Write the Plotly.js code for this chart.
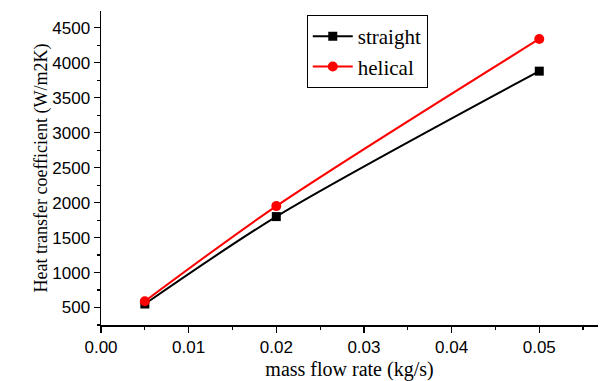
<!DOCTYPE html>
<html><head><meta charset="utf-8">
<script src="https://cdn.plot.ly/plotly-3.0.1.min.js"></script>
<style>body{margin:0;padding:0;background:#fff}#chart{width:605px;height:381px}</style>
</head><body><div id="chart"></div>
<script>
const massFlow = [0.005, 0.02, 0.05];
const straight = [550, 1800, 3880];
const helical = [590, 1950, 4340];
const seriesNames = ['straight', 'helical'];

const traces = [
  {x: massFlow, y: straight, name: seriesNames[0], mode: 'lines+markers', type: 'scatter',
   line: {color: '#000000', width: 2, shape: 'spline', smoothing: 0.8},
   marker: {symbol: 'square', size: 9, color: '#000000'}},
  {x: massFlow, y: helical, name: seriesNames[1], mode: 'lines+markers', type: 'scatter',
   line: {color: '#ff0000', width: 2, shape: 'spline', smoothing: 0.8},
   marker: {symbol: 'circle', size: 10, color: '#ff0000'}}
];

const layout = {
  width: 605, height: 381,
  margin: {l: 101, r: 7, t: 11, b: 56},
  paper_bgcolor: '#fff', plot_bgcolor: '#fff',
  showlegend: true,
  legend: {x: 0.414, y: 0.987, xanchor: 'left', yanchor: 'top',
    bordercolor: '#000', borderwidth: 1, bgcolor: '#fff',
    font: {family: 'Liberation Serif', size: 21, color: '#000'},
    tracegroupgap: 0, itemwidth: 40},
  xaxis: {range: [0, 0.0567], dtick: 0.01, tick0: 0, tickformat: '.2f',
    showgrid: false, zeroline: false, showline: true, linecolor: '#000', linewidth: 1.5,
    ticks: 'outside', ticklen: 6, tickcolor: '#000', tickwidth: 1.2,
    minor: {dtick: 0.005, ticks: 'outside', ticklen: 3, tickcolor: '#000', showgrid: false},
    tickfont: {family: 'Liberation Sans', size: 17, color: '#000'},
    title: {text: 'mass flow rate (kg/s)', standoff: 10,
      font: {family: 'Liberation Serif', size: 20, color: '#000'}}},
  yaxis: {range: [250, 4740], dtick: 500, tick0: 0,
    showgrid: false, zeroline: false, showline: true, linecolor: '#000', linewidth: 1.5,
    ticks: 'outside', ticklen: 6, tickcolor: '#000', tickwidth: 1.2,
    minor: {dtick: 250, ticks: 'outside', ticklen: 3, tickcolor: '#000', showgrid: false},
    tickfont: {family: 'Liberation Sans', size: 17, color: '#000'},
    title: {text: 'Heat transfer coefficient (W/m2K)', standoff: 0,
      font: {family: 'Liberation Serif', size: 18, color: '#000'}}}
};
Plotly.newPlot('chart', traces, layout, {displayModeBar: false, staticPlot: true});
</script></body></html>
